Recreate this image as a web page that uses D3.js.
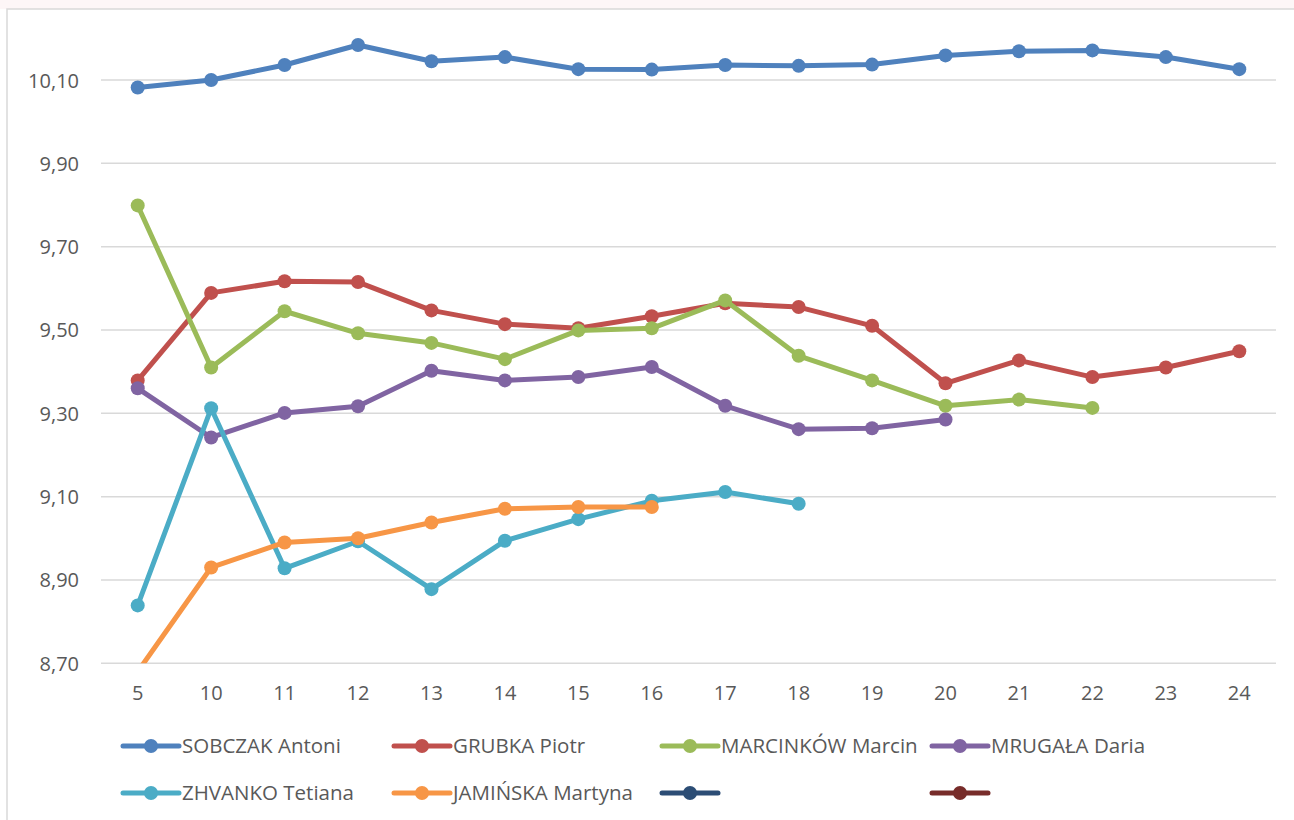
<!DOCTYPE html>
<html><head><meta charset="utf-8">
<script src="https://cdn.jsdelivr.net/npm/d3@7"></script>
<style>body{margin:0;background:#fff;}svg{display:block;font-family:"Open Sans","Noto Sans",sans-serif;}</style>
</head><body><svg id="c" width="1294" height="820"></svg>
<script>
const categories = ["5","10","11","12","13","14","15","16","17","18","19","20","21","22","23","24"];
const yTicks = [8.70, 8.90, 9.10, 9.30, 9.50, 9.70, 9.90, 10.10];
const seriesNames = ["SOBCZAK Antoni","GRUBKA Piotr","MARCINKÓW Marcin","MRUGAŁA Daria","ZHVANKO Tetiana","JAMIŃSKA Martyna","",""];
const seriesColors = ["#4f81bd","#c0504d","#9bbb59","#8064a2","#4bacc6","#f79646","#2c4d75","#772c2a"];
const sobczak   = [10.082,10.100,10.136,10.184,10.145,10.155,10.126,10.125,10.136,10.134,10.137,10.159,10.169,10.171,10.155,10.126];
const grubka    = [9.379,9.589,9.617,9.615,9.547,9.514,9.504,9.533,9.564,9.555,9.510,9.372,9.427,9.387,9.410,9.449];
const marcinkow = [9.799,9.410,9.545,9.492,9.469,9.430,9.499,9.504,9.571,9.438,9.379,9.318,9.333,9.313];
const mrugala   = [9.360,9.242,9.301,9.317,9.402,9.379,9.387,9.411,9.318,9.262,9.264,9.285];
const zhvanko   = [8.839,9.312,8.928,8.993,8.878,8.994,9.046,9.090,9.111,9.083];
const jaminska  = [8.680,8.930,8.990,9.000,9.038,9.071,9.075,9.075];
const series8a  = [];
const series8b  = [];
const seriesData = [sobczak,grubka,marcinkow,mrugala,zhvanko,jaminska,series8a,series8b];

const FONT = "'Open Sans','Noto Sans',sans-serif";
const svg = d3.select("#c");
svg.append("rect").attr("x",0).attr("y",0).attr("width",1294).attr("height",9).attr("fill","#fdf6f7");
svg.append("rect").attr("x",7).attr("y",9).attr("width",1300).attr("height",820).attr("fill","#fff")
  .attr("stroke","#d9d9d9").attr("stroke-width",1.5);

const left = 101, right = 1276;
const x = d3.scaleBand().domain(categories).range([left, right]);
const y = d3.scaleLinear().domain([8.70, 10.10]).range([663.3, 80]);

svg.append("g").selectAll("line").data(yTicks).join("line")
  .attr("x1", left).attr("x2", right)
  .attr("y1", d => y(d)).attr("y2", d => y(d))
  .attr("stroke", "#d9d9d9").attr("stroke-width", 1.5);

const yAxis = d3.axisLeft(y).tickValues(yTicks).tickSize(0).tickPadding(0)
  .tickFormat(d => d3.format(".2f")(d).replace(".", ","));
const gy = svg.append("g").attr("transform", "translate(79,0)").call(yAxis);
gy.select(".domain").remove();
gy.selectAll("text").attr("font-size", 20).attr("fill", "#595959").attr("dy", "0.35em")
  .attr("font-family", FONT);

const xAxis = d3.axisBottom(x).tickSize(0).tickPadding(0);
const gx = svg.append("g").attr("transform", "translate(0,693)").call(xAxis);
gx.select(".domain").remove();
gx.selectAll("text").attr("font-size", 20).attr("fill", "#595959").attr("dy", "0.35em")
  .attr("font-family", FONT);

svg.append("defs").append("clipPath").attr("id","plot")
  .append("rect").attr("x", 0).attr("y", 10).attr("width", 1294).attr("height", y(8.70) - 10);

const plot = svg.append("g").attr("clip-path","url(#plot)");
const line = d3.line().x((d,i) => x(categories[i]) + x.bandwidth()/2).y(d => y(d));
seriesData.forEach((data, s) => {
  if (!data.length) return;
  const g = plot.append("g");
  g.append("path").datum(data).attr("d", line).attr("fill","none")
    .attr("stroke", seriesColors[s]).attr("stroke-width", 5).attr("stroke-linejoin","round").attr("stroke-linecap","round");
  g.selectAll("circle").data(data).join("circle")
    .attr("cx", (d,i) => x(categories[i]) + x.bandwidth()/2).attr("cy", d => y(d))
    .attr("r", 7).attr("fill", seriesColors[s]);
});

const legCols = [123, 394, 662, 932];
const legRows = [746, 793];
seriesNames.forEach((name, i) => {
  const lx = legCols[i % 4], ly = legRows[Math.floor(i / 4)];
  const g = svg.append("g");
  g.append("line").attr("x1", lx).attr("x2", lx + 56).attr("y1", ly).attr("y2", ly)
    .attr("stroke", seriesColors[i]).attr("stroke-width", 5).attr("stroke-linecap","round");
  g.append("circle").attr("cx", lx + 28).attr("cy", ly).attr("r", 7).attr("fill", seriesColors[i]);
  if (name) g.append("text").attr("x", lx + 59).attr("y", ly).attr("dy","0.35em")
    .attr("font-size", 20.5).attr("fill", "#595959").attr("font-family", FONT).text(name);
});
</script></body></html>
